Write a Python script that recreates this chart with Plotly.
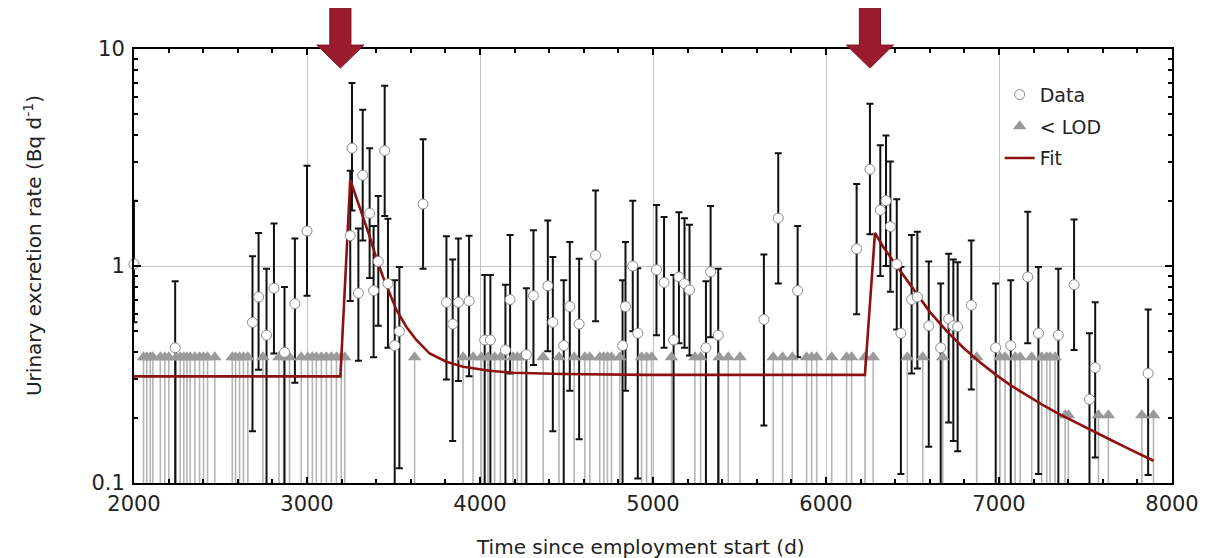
import plotly.graph_objects as go

# ---------------- data ----------------
data_days = [2000, 2238, 2685, 2720, 2766, 2809, 2870, 2930, 3000, 3260, 3250, 3297, 3322, 3362,
             3385, 3412, 3449, 3468, 3507, 3534, 3671, 3806, 3842, 3875, 3937, 4027, 4060, 4147,
             4174, 4268, 4309, 4392, 4421, 4484, 4519, 4573, 4668, 4824, 4841, 4883, 4912, 5020,
             5064, 5119, 5150, 5182, 5211, 5306, 5333, 5377, 5641, 5724, 5836, 6177, 6254, 6314,
             6347, 6372, 6409, 6433, 6495, 6528, 6594, 6663, 6709, 6736, 6761, 6840, 6981, 7068,
             7166, 7228, 7343, 7434, 7523, 7556, 7862]
data_vals = [1.02, 0.42, 0.55, 0.72, 0.48, 0.79, 0.40, 0.67, 1.45, 3.49, 1.38, 0.75, 2.62, 1.75,
             0.77, 1.05, 3.40, 0.83, 0.43, 0.50, 1.93, 0.68, 0.54, 0.68, 0.69, 0.456, 0.456, 0.41,
             0.70, 0.39, 0.73, 0.81, 0.55, 0.43, 0.65, 0.54, 1.12, 0.43, 0.65, 1.00, 0.49, 0.96,
             0.84, 0.456, 0.89, 0.83, 0.775, 0.42, 0.94, 0.48, 0.567, 1.66, 0.77, 1.20, 2.79, 1.81,
             2.00, 1.52, 1.02, 0.49, 0.70, 0.72, 0.53, 0.42, 0.57, 0.53, 0.525, 0.66, 0.42, 0.43,
             0.89, 0.49, 0.48, 0.82, 0.243, 0.34, 0.32]
data_upper = [2.0, 0.85, 1.11, 1.42, 0.97, 1.57, 0.80, 1.34, 2.9, 6.97, 2.75, 1.49, 5.25, 3.49,
              1.53, 2.1, 6.77, 1.65, 0.86, 0.99, 3.84, 1.37, 1.07, 1.34, 1.38, 0.91, 0.91, 0.82,
              1.39, 0.79, 1.46, 1.62, 1.10, 0.86, 1.29, 1.08, 2.23, 0.86, 1.29, 2.0, 0.976, 1.91,
              1.68, 0.91, 1.77, 1.66, 1.55, 0.85, 1.89, 0.97, 1.13, 3.31, 1.53, 2.39, 5.59, 3.6,
              3.99, 3.03, 2.03, 0.99, 1.39, 1.44, 1.05, 0.83, 1.14, 1.07, 1.04, 1.31, 0.83, 0.86,
              1.78, 0.99, 0.97, 1.64, 0.49, 0.68, 0.63]
# None = lower end of the error bar lies below the axis (0.1)
data_lower = [0.55, None, 0.173, 0.333, None, 0.395, None, 0.29, 0.73, 1.8, 0.69, 0.366, 1.31, 0.88,
              0.38, 0.53, 1.7, 0.42, None, 0.117, 0.97, 0.30, 0.156, 0.295, 0.31, None, None, None,
              0.32, None, 0.35, 0.405, 0.173, None, 0.266, 0.159, 0.557, None, 0.266, 0.50, 0.105, 0.48,
              0.42, None, 0.44, 0.42, 0.387, None, 0.47, None, 0.184, 0.83, 0.38, 0.60, 1.40, 0.90,
              1.0, 0.76, 0.51, 0.11, 0.32, 0.337, 0.147, None, 0.19, 0.156, 0.14, 0.27, None, None,
              0.44, 0.11, None, 0.41, None, 0.131, 0.109]

lod_days = [2055, 2074, 2094, 2109, 2152, 2178, 2201, 2244, 2267, 2288, 2306, 2325, 2352, 2379,
            2402, 2425, 2467, 2568, 2587, 2610, 2633, 2658, 2745, 2838, 2865, 2899, 2967, 3005,
            3031, 3054, 3083, 3112, 3141, 3170, 3198, 3218, 3622, 3902, 3960, 4008, 4046, 4085,
            4118, 4191, 4216, 4240, 4365, 4457, 4544, 4606, 4635, 4692, 4716, 4737, 4760, 4808,
            4934, 4963, 4992, 5107, 5242, 5275, 5383, 5435, 5503, 5695, 5749, 5805, 5888, 5917,
            5946, 6033, 6119, 6148, 6225, 6273, 6470, 6559, 6675, 6871, 7006, 7035, 7093, 7122,
            7189, 7247, 7276, 7295, 7324, 7382, 7401, 7575, 7632, 7826, 7893]
lod_vals = [0.38] * 89 + [0.205] * 6

fit_days = [2000, 3193, 3250, 3285, 3323, 3362, 3401, 3439, 3478, 3517, 3574, 3632, 3709, 3806,
            3902, 4056, 4191, 4480, 4963,
            6225, 6283, 6331, 6409, 6466, 6528, 6601, 6698, 6794, 6890, 6977, 7070, 7170,
            7260, 7343, 7450, 7556, 7650, 7748, 7893]
fit_vals = [0.31, 0.31, 2.49, 2.09, 1.69, 1.37, 1.086, 0.893, 0.748, 0.627, 0.525, 0.456, 0.395, 0.362,
            0.343, 0.329, 0.322, 0.318, 0.315,
            0.315, 1.42, 1.224, 1.0, 0.862, 0.735, 0.613, 0.501, 0.42, 0.3605, 0.3175, 0.281, 0.25,
            0.227, 0.2086, 0.1886, 0.1714, 0.1574, 0.1441, 0.1266]

intake_days = [3193, 6254]

x_ticks = [2000, 3000, 4000, 5000, 6000, 7000, 8000]
y_ticks = [0.1, 1, 10]
y_tick_text = ["0.1", "1", "10"]
x_title = "Time since employment start (d)"
y_title = "Urinary excretion rate (Bq d<sup>-1</sup>)"

FLOOR = 0.03  # below axis minimum, used for bars running off the bottom
FONT = "DejaVu Sans"
RED = "#8e1010"

fig = go.Figure()

# vertical lines beneath the < LOD triangles
lx, ly = [], []
for d, v in zip(lod_days, lod_vals):
    lx += [d, d, None]
    ly += [v, FLOOR, None]
fig.add_trace(go.Scatter(x=lx, y=ly, mode="lines", line=dict(color="#b5b5b5", width=1.6),
                         showlegend=False, hoverinfo="skip"))

# error bars of the data
lows = [FLOOR if lo is None else lo for lo in data_lower]
fig.add_trace(go.Scatter(
    x=data_days, y=data_vals, mode="markers",
    marker=dict(size=1, opacity=0), showlegend=False, hoverinfo="skip",
    error_y=dict(type="data", symmetric=False,
                 array=[u - v for u, v in zip(data_upper, data_vals)],
                 arrayminus=[v - l for v, l in zip(data_vals, lows)],
                 color="#111111", thickness=2, width=3.5)))

fig.add_trace(go.Scatter(
    x=lod_days, y=lod_vals, mode="markers", name="< LOD", legendgroup="b", legendrank=2,
    marker=dict(symbol="triangle-up", size=12, color="#9a9a9a", line=dict(width=0))))

fig.add_trace(go.Scatter(
    x=fit_days, y=fit_vals, mode="lines", name="Fit", legendgroup="c", legendrank=3,
    line=dict(color=RED, width=2.6)))

fig.add_trace(go.Scatter(
    x=data_days, y=data_vals, mode="markers", name="Data", legendgroup="a", legendrank=1,
    cliponaxis=False,
    marker=dict(symbol="circle", size=10, color="white", line=dict(color="#8a8a8a", width=1))))

# intake arrows above the plot
shapes = []
for d in intake_days:
    sw, hw = 61, 136
    path = (f"M {d - sw} 1.094 L {d + sw} 1.094 L {d + sw} 1.009 L {d + hw} 1.009 "
            f"L {d} 0.956 L {d - hw} 1.009 L {d - sw} 1.009 Z")
    shapes.append(dict(type="path", xref="x", yref="paper", path=path,
                       fillcolor="#9b1b2e", line=dict(color="#7d1020", width=1), layer="above"))

annotations = [
    dict(text=x_title, xref="paper", yref="paper", x=0.488, y=0, xanchor="center",
         yanchor="middle", yshift=-64, showarrow=False, font=dict(family=FONT, size=20)),
    dict(text=y_title, xref="paper", yref="paper", x=0, y=0.546, xanchor="center",
         yanchor="middle", xshift=-101, textangle=-90, showarrow=False,
         font=dict(family=FONT, size=20)),
]

fig.update_layout(
    width=1211, height=550, autosize=False,
    margin=dict(l=126, r=47, t=41, b=75),
    paper_bgcolor="white", plot_bgcolor="white",
    font=dict(family=FONT, size=21, color="#222222"),
    shapes=shapes, annotations=annotations,
    legend=dict(x=0.834, y=0.9385, xanchor="left", yanchor="top", bgcolor="white",
                font=dict(family=FONT, size=19, color="#222222"),
                traceorder="grouped", tracegroupgap=4, itemwidth=30),
    xaxis=dict(range=[2000, 8000], tickvals=x_ticks, ticks="inside", ticklen=6,
               tickcolor="black", tickwidth=1.5, automargin=False,
               showline=True, linecolor="black", linewidth=2, mirror="allticks",
               showgrid=True, gridcolor="#c4c4c4", gridwidth=1, zeroline=False,
               minor=dict(dtick=200, ticks="inside", ticklen=4, tickcolor="black", showgrid=False),
               ticklabelstandoff=1),
    yaxis=dict(type="log", range=[-1, 1], tickvals=y_ticks, ticktext=y_tick_text,
               ticks="inside", ticklen=7, tickcolor="black", tickwidth=1.5, automargin=False,
               showline=True, linecolor="black", linewidth=2, mirror="allticks",
               showgrid=True, gridcolor="#c4c4c4", gridwidth=1, zeroline=False,
               minor=dict(tickvals=[0.2, 0.3, 0.4, 0.5, 0.6, 0.7, 0.8, 0.9,
                                    2, 3, 4, 5, 6, 7, 8, 9],
                          ticks="inside", ticklen=4, tickcolor="black", showgrid=False),
               ticklabelstandoff=3),
)

fig.write_html("out.html")
